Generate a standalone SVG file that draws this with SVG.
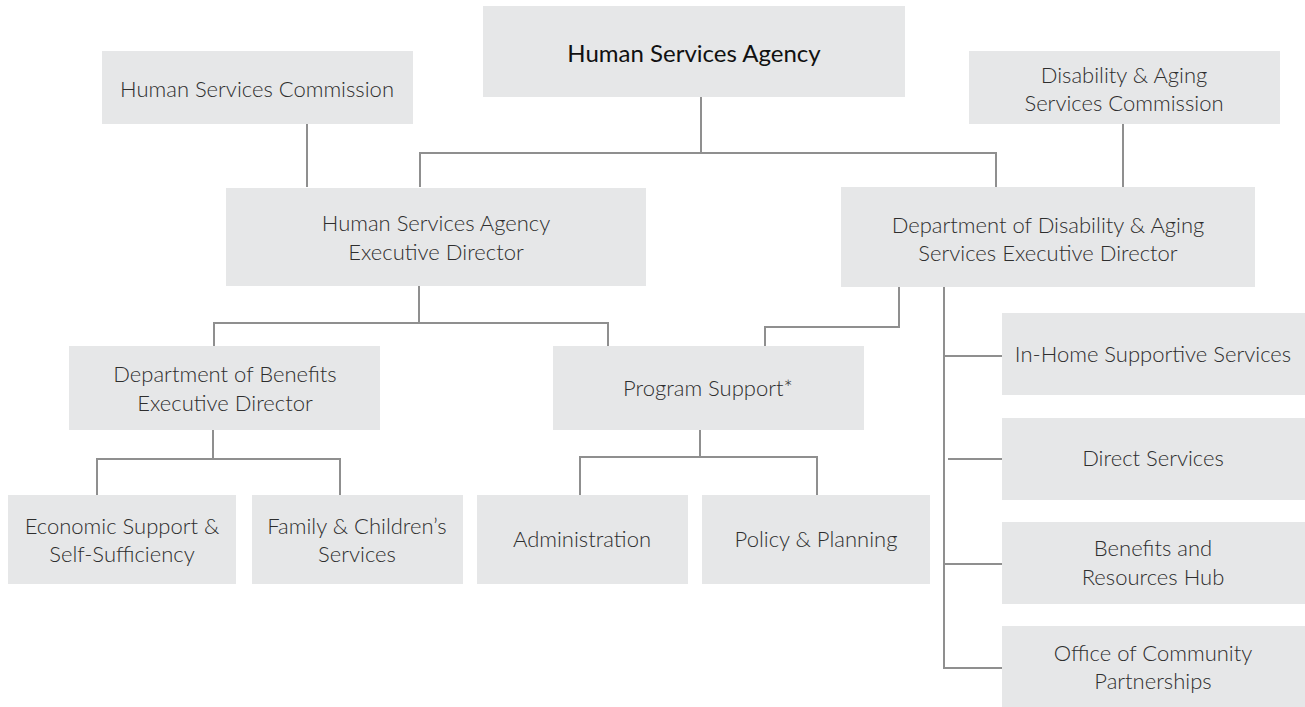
<svg xmlns="http://www.w3.org/2000/svg" width="1305" height="707" viewBox="0 0 1305 707">
<style>
.box{fill:#e6e7e8}
.t{font-family:Lato,"Open Sans","Liberation Sans",sans-serif;font-weight:300;font-size:22px;fill:#2e2e2e;text-anchor:middle}
.title{font-family:Lato,"Open Sans","Liberation Sans",sans-serif;font-weight:400;font-size:24px;fill:#111;text-anchor:middle}
.c{fill:none;stroke:#8f8f8f;stroke-width:2}
</style>
<rect width="1305" height="707" fill="#fff"/>
<g id="connectors">
<path class="c" d="M701,97 V153 M420,187 V153 H996 V187"/>
<path class="c" d="M307,124 V187"/>
<path class="c" d="M1123,124 V187"/>
<path class="c" d="M419,286 V323 M214,346 V323 H608 V346"/>
<path class="c" d="M899,287 V327 H765 V346"/>
<path class="c" d="M213,430 V459 M97,495 V459 H340 V495"/>
<path class="c" d="M700,430 V457 M580,495 V457 H817 V495"/>
<path class="c" d="M944,287 V668 H1002 M944,356 H1002 M948,459 H1002 M944,564 H1002"/>
</g>
<g id="n-hsa"><rect class="box" x="483" y="6" width="422" height="91"/><text class="title" x="694" y="62">Human Services Agency</text></g>
<g id="n-hsc"><rect class="box" x="102" y="51" width="311" height="73"/><text class="t" x="257" y="97">Human Services Commission</text></g>
<g id="n-dasc"><rect class="box" x="969" y="51" width="311" height="73"/><text class="t" x="1124" y="83">Disability &amp; Aging</text><text class="t" x="1124" y="111">Services Commission</text></g>
<g id="n-hsaed"><rect class="box" x="226" y="188" width="420" height="98"/><text class="t" x="436" y="231">Human Services Agency</text><text class="t" x="436" y="260">Executive Director</text></g>
<g id="n-ddaed"><rect class="box" x="841" y="187" width="414" height="100"/><text class="t" x="1048" y="233">Department of Disability &amp; Aging</text><text class="t" x="1048" y="261">Services Executive Director</text></g>
<g id="n-dobed"><rect class="box" x="69" y="346" width="311" height="84"/><text class="t" x="225" y="382">Department of Benefits</text><text class="t" x="225" y="411">Executive Director</text></g>
<g id="n-ps"><rect class="box" x="553" y="346" width="311" height="84"/><text class="t" x="708" y="396">Program Support*</text></g>
<g id="n-ess"><rect class="box" x="8" y="495" width="228" height="89"/><text class="t" x="122" y="534">Economic Support &amp;</text><text class="t" x="122" y="562">Self-Sufficiency</text></g>
<g id="n-fcs"><rect class="box" x="252" y="495" width="211" height="89"/><text class="t" x="357" y="534">Family &amp; Children’s</text><text class="t" x="357" y="562">Services</text></g>
<g id="n-admin"><rect class="box" x="477" y="495" width="211" height="89"/><text class="t" x="582" y="547">Administration</text></g>
<g id="n-pp"><rect class="box" x="702" y="495" width="228" height="89"/><text class="t" x="816" y="547">Policy &amp; Planning</text></g>
<g id="n-ihss"><rect class="box" x="1002" y="313" width="303" height="82"/><text class="t" x="1153" y="362">In-Home Supportive Services</text></g>
<g id="n-ds"><rect class="box" x="1002" y="418" width="303" height="82"/><text class="t" x="1153" y="466">Direct Services</text></g>
<g id="n-brh"><rect class="box" x="1002" y="522" width="303" height="82"/><text class="t" x="1153" y="556">Benefits and</text><text class="t" x="1153" y="585">Resources Hub</text></g>
<g id="n-ocp"><rect class="box" x="1002" y="626" width="303" height="81"/><text class="t" x="1153" y="661">Office of Community</text><text class="t" x="1153" y="689">Partnerships</text></g>
</svg>
